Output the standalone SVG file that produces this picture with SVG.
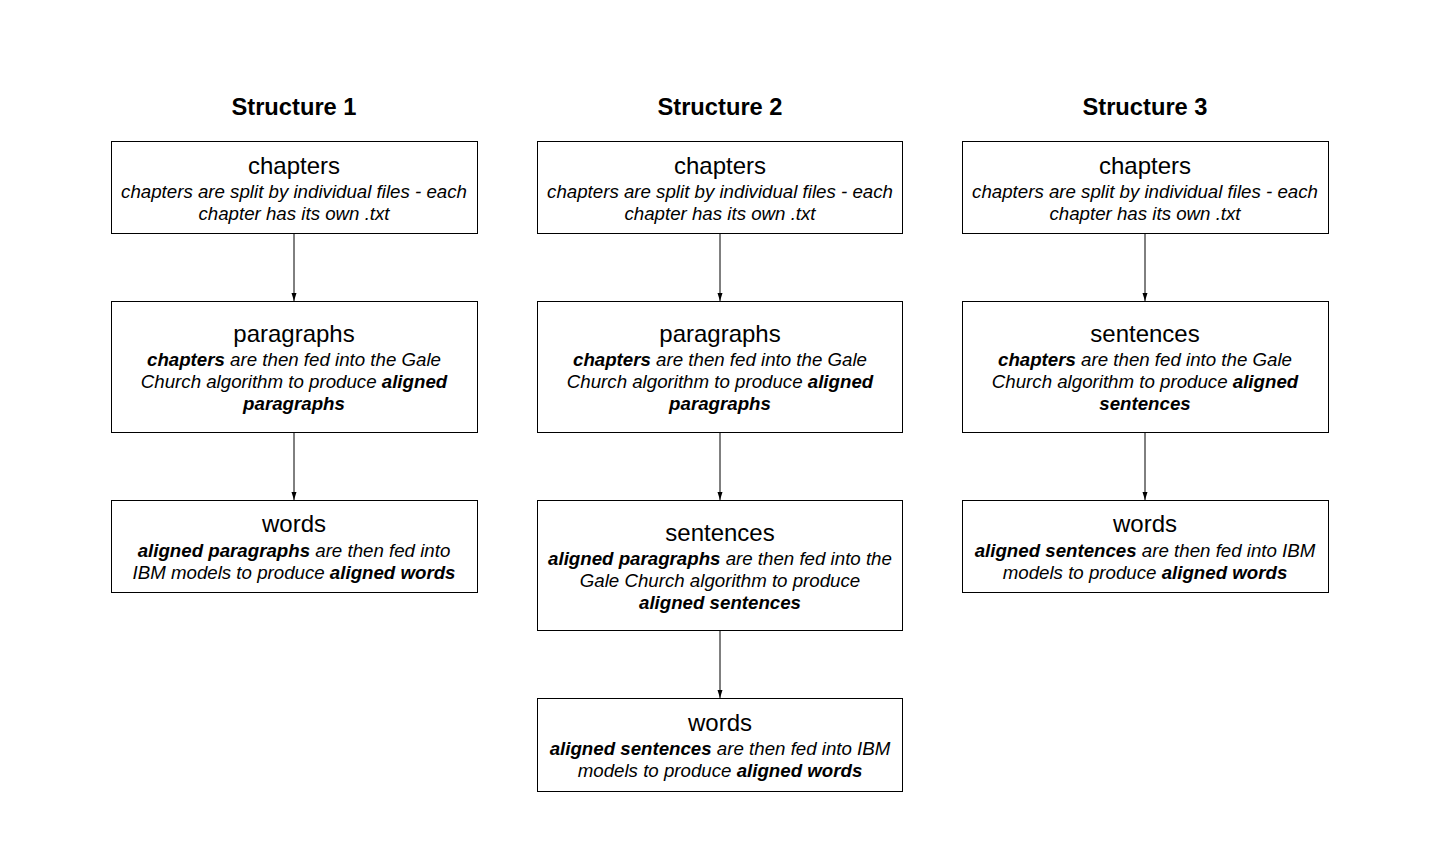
<svg xmlns="http://www.w3.org/2000/svg" width="1440" height="864" viewBox="0 0 1440 864">
<style>
.box{fill:#fff;stroke:#000;stroke-width:1}
.hd{font-family:"Liberation Sans",Arial,sans-serif;font-size:23.7px;font-weight:bold;text-anchor:middle}
.nm{font-family:"Liberation Sans",Arial,sans-serif;font-size:24px;text-anchor:middle}
.ds{font-family:"Liberation Sans",Arial,sans-serif;font-size:18.7px;font-style:italic;text-anchor:middle}
.b{font-weight:bold}
.cn{stroke:#000;stroke-width:1;fill:none;marker-end:url(#ah)}
</style>
<defs>
<marker id="ah" viewBox="0 0 8 8" refX="8" refY="4" markerWidth="8" markerHeight="8" markerUnits="userSpaceOnUse" orient="auto">
<path d="M0,1.5 L8,4 L0,6.5 z" fill="#000"/>
</marker>
</defs>
<rect width="1440" height="864" fill="#fff"/>
<g id="titles">
<text class="hd" x="294" y="115">Structure 1</text>
<text class="hd" x="720" y="115">Structure 2</text>
<text class="hd" x="1145" y="115">Structure 3</text>
</g>
<g id="connectors">
<line class="cn" x1="294" y1="233" x2="294" y2="301"/>
<line class="cn" x1="294" y1="432" x2="294" y2="500"/>
<line class="cn" x1="720" y1="233" x2="720" y2="301"/>
<line class="cn" x1="720" y1="432" x2="720" y2="500"/>
<line class="cn" x1="720" y1="630" x2="720" y2="698"/>
<line class="cn" x1="1145" y1="233" x2="1145" y2="301"/>
<line class="cn" x1="1145" y1="432" x2="1145" y2="500"/>
</g>
<g id="s1-chapters">
<rect class="box" x="111.5" y="141.5" width="366" height="92"/>
<text class="nm" x="294" y="174">chapters</text>
<text class="ds" x="294" y="198">chapters are split by individual files - each</text>
<text class="ds" x="294" y="220">chapter has its own .txt</text>
</g>
<g id="s1-paragraphs">
<rect class="box" x="111.5" y="301.5" width="366" height="131"/>
<text class="nm" x="294" y="342">paragraphs</text>
<text class="ds" x="294" y="366"><tspan class="b">chapters</tspan> are then fed into the Gale</text>
<text class="ds" x="294" y="388">Church algorithm to produce <tspan class="b">aligned</tspan></text>
<text class="ds b" x="294" y="410">paragraphs</text>
</g>
<g id="s1-words">
<rect class="box" x="111.5" y="500.5" width="366" height="92"/>
<text class="nm" x="294" y="532">words</text>
<text class="ds" x="294" y="557"><tspan class="b">aligned paragraphs</tspan> are then fed into</text>
<text class="ds" x="294" y="579">IBM models to produce <tspan class="b">aligned words</tspan></text>
</g>
<g id="s2-chapters">
<rect class="box" x="537.5" y="141.5" width="365" height="92"/>
<text class="nm" x="720" y="174">chapters</text>
<text class="ds" x="720" y="198">chapters are split by individual files - each</text>
<text class="ds" x="720" y="220">chapter has its own .txt</text>
</g>
<g id="s2-paragraphs">
<rect class="box" x="537.5" y="301.5" width="365" height="131"/>
<text class="nm" x="720" y="342">paragraphs</text>
<text class="ds" x="720" y="366"><tspan class="b">chapters</tspan> are then fed into the Gale</text>
<text class="ds" x="720" y="388">Church algorithm to produce <tspan class="b">aligned</tspan></text>
<text class="ds b" x="720" y="410">paragraphs</text>
</g>
<g id="s2-sentences">
<rect class="box" x="537.5" y="500.5" width="365" height="130"/>
<text class="nm" x="720" y="541">sentences</text>
<text class="ds" x="720" y="565"><tspan class="b">aligned paragraphs</tspan> are then fed into the</text>
<text class="ds" x="720" y="587">Gale Church algorithm to produce</text>
<text class="ds b" x="720" y="609">aligned sentences</text>
</g>
<g id="s2-words">
<rect class="box" x="537.5" y="698.5" width="365" height="93"/>
<text class="nm" x="720" y="731">words</text>
<text class="ds" x="720" y="755"><tspan class="b">aligned sentences</tspan> are then fed into IBM</text>
<text class="ds" x="720" y="777">models to produce <tspan class="b">aligned words</tspan></text>
</g>
<g id="s3-chapters">
<rect class="box" x="962.5" y="141.5" width="366" height="92"/>
<text class="nm" x="1145" y="174">chapters</text>
<text class="ds" x="1145" y="198">chapters are split by individual files - each</text>
<text class="ds" x="1145" y="220">chapter has its own .txt</text>
</g>
<g id="s3-sentences">
<rect class="box" x="962.5" y="301.5" width="366" height="131"/>
<text class="nm" x="1145" y="342">sentences</text>
<text class="ds" x="1145" y="366"><tspan class="b">chapters</tspan> are then fed into the Gale</text>
<text class="ds" x="1145" y="388">Church algorithm to produce <tspan class="b">aligned</tspan></text>
<text class="ds b" x="1145" y="410">sentences</text>
</g>
<g id="s3-words">
<rect class="box" x="962.5" y="500.5" width="366" height="92"/>
<text class="nm" x="1145" y="532">words</text>
<text class="ds" x="1145" y="557"><tspan class="b">aligned sentences</tspan> are then fed into IBM</text>
<text class="ds" x="1145" y="579">models to produce <tspan class="b">aligned words</tspan></text>
</g>
</svg>
